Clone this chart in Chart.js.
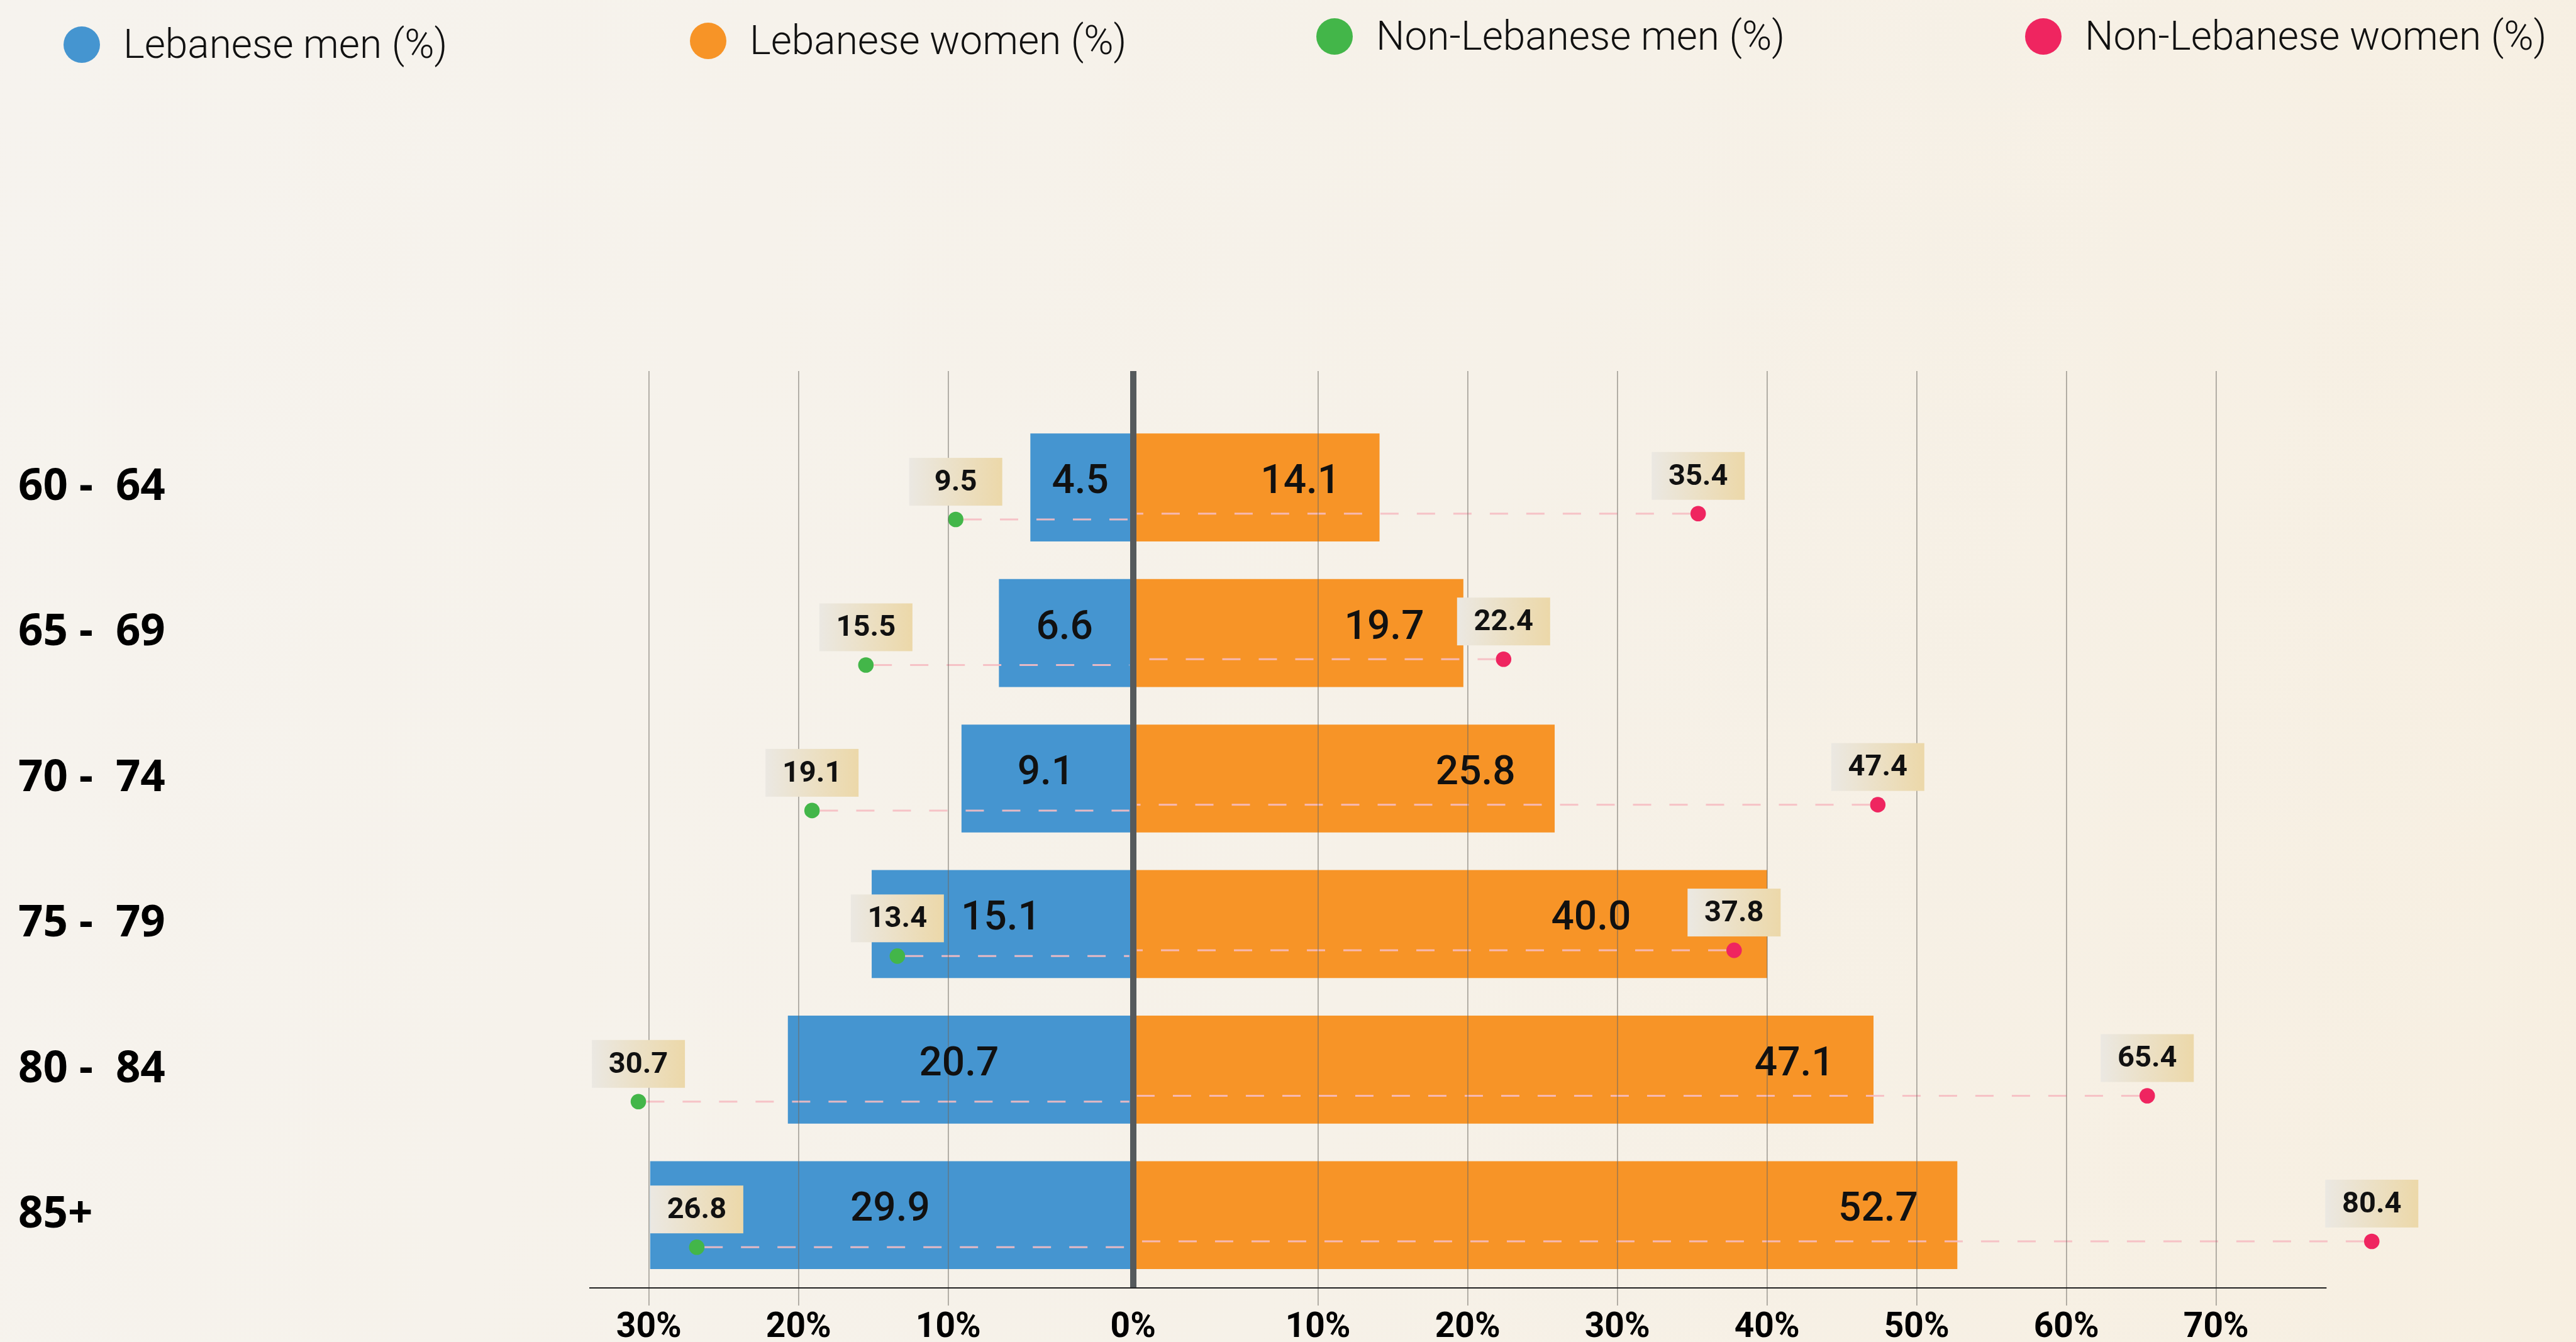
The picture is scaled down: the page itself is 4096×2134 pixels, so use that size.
<!DOCTYPE html>
<html>
<head>
<meta charset="utf-8">
<script src="https://cdn.jsdelivr.net/npm/chart.js@4.4.1/dist/chart.umd.min.js"></script>
<style>
  html, body { margin: 0; padding: 0; width: 4096px; height: 2134px; overflow: hidden; }
  body { position: relative; background: linear-gradient(105deg, #f6f3ee 0%, #f6f1e8 55%, #f7efe1 100%); }
  #c { position: absolute; left: 0; top: 0; width: 4096px; height: 2134px; }
  #legend { position: absolute; left: 0; top: 0; width: 4096px; height: 150px; }
  .li { position: absolute; display: flex; align-items: center; height: 58px; }
  .li .dot { width: 58px; height: 58px; border-radius: 50%; margin-right: 37px; flex: none; }
  .li .tx { font-family: Roboto, sans-serif; font-weight: 300; font-size: 64px; line-height: 1; color: #111; white-space: nowrap; }
  .li:nth-child(1) { left: 101px; top: 42px; }
  .li:nth-child(2) { left: 1097px; top: 36px; }
  .li:nth-child(3) { left: 2093px; top: 29px; }
  .li:nth-child(4) { left: 3220px; top: 29px; }
</style>
</head>
<body>
<canvas id="c" width="4096" height="2134"></canvas>
<div id="legend"></div>
<script>
// ---- data ----
const categories = ["60 -  64", "65 -  69", "70 -  74", "75 -  79", "80 -  84", "85+"];
const seriesNames = ["Lebanese men (%)", "Lebanese women (%)", "Non-Lebanese men (%)", "Non-Lebanese women (%)"];
const lebaneseMen = [4.5, 6.6, 9.1, 15.1, 20.7, 29.9];
const lebaneseWomen = [14.1, 19.7, 25.8, 40.0, 47.1, 52.7];
const nonLebaneseMen = [9.5, 15.5, 19.1, 13.4, 30.7, 26.8];
const nonLebaneseWomen = [35.4, 22.4, 47.4, 37.8, 65.4, 80.4];
const tickPercents = [-30, -20, -10, 0, 10, 20, 30, 40, 50, 60, 70];

// ---- layout helpers (diverging axis with a small gap around the centre line) ----
const GAP = 2.35;
const toLeft = v => -(v + GAP);
const toRight = v => v + GAP;
const tickToAxis = p => p === 0 ? 0 : (p < 0 ? toLeft(-p) : toRight(p));
const MEN_DOT_SHIFT = 0.22, WOMEN_DOT_SHIFT = 0.18;
const X_MIN = -36.33, X_MAX = 84, AXIS_LINE_END = 79.73;

const colors = { blue: '#4595d0', orange: '#f79427', green: '#43b649', pink: '#ef2560' };
const gridGray = 'rgba(110,106,98,0.55)';
const BOX_W = 148, BOX_H = 76, BOX_GAP = 22;

const overlay = {
  id: 'overlay',
  afterDatasetsDraw(chart) {
    const ctx = chart.ctx;
    const cx = chart.scales.x.getPixelForValue(0);
    ctx.save();
    ctx.strokeStyle = 'rgba(246,188,194,0.9)';
    ctx.lineWidth = 3;
    ctx.setLineDash([29, 29]);
    [2, 3].forEach(di => {
      chart.getDatasetMeta(di).data.forEach(pt => {
        const r = pt.options.radius;
        const left = pt.x < cx;
        ctx.beginPath();
        ctx.moveTo(left ? pt.x + r : pt.x - r, pt.y);
        ctx.lineTo(left ? cx - 6 : cx + 6, pt.y);
        ctx.stroke();
      });
    });
    ctx.restore();
  },
  afterDraw(chart) {
    const ctx = chart.ctx;
    const xs = chart.scales.x, area = chart.chartArea;
    ctx.save();
    // bottom axis line (stops short of the last dot, as in the original)
    ctx.strokeStyle = '#222';
    ctx.lineWidth = 1.8;
    ctx.beginPath();
    ctx.moveTo(area.left, area.bottom);
    ctx.lineTo(xs.getPixelForValue(AXIS_LINE_END), area.bottom);
    ctx.stroke();

    // boxes of the dot labels (computed first so bar labels can avoid them)
    const boxes = [];
    [[2, nonLebaneseMen], [3, nonLebaneseWomen]].forEach(([di, vals]) => {
      chart.getDatasetMeta(di).data.forEach((pt, i) => {
        boxes.push({ x: pt.x - BOX_W / 2, y: pt.y - BOX_GAP - BOX_H, cx: pt.x, row: i, text: vals[i].toFixed(1) });
      });
    });

    ctx.fillStyle = '#111';
    ctx.font = '500 64px Roboto';
    ctx.textBaseline = 'middle';
    chart.getDatasetMeta(0).data.forEach((el, i) => {
      ctx.textAlign = 'center';
      ctx.fillText(lebaneseMen[i].toFixed(1), (el.x + el.base) / 2, el.y - 7);
    });
    chart.getDatasetMeta(1).data.forEach((el, i) => {
      const txt = lebaneseWomen[i].toFixed(1);
      const w = ctx.measureText(txt).width;
      let right = el.x - 62;
      boxes.forEach(b => {
        if (b.row === i && right > b.x && right - w < b.x + BOX_W) right = b.x - 90;
      });
      ctx.textAlign = 'right';
      ctx.fillText(txt, right, el.y - 7);
    });

    boxes.forEach(b => {
      const g = ctx.createLinearGradient(b.x, 0, b.x + BOX_W, 0);
      g.addColorStop(0, '#ebe8e2');
      g.addColorStop(1, '#ecd8a9');
      ctx.fillStyle = g;
      ctx.fillRect(b.x, b.y, BOX_W, BOX_H);
      ctx.fillStyle = '#111';
      ctx.font = 'bold 47px Roboto';
      ctx.textAlign = 'center';
      ctx.textBaseline = 'middle';
      ctx.fillText(b.text, b.cx, b.y + BOX_H / 2 + 2);
    });
    ctx.restore();
  }
};

const chart = new Chart(document.getElementById('c'), {
  type: 'bar',
  data: {
    datasets: [
      { type: 'bar', label: seriesNames[0], grouped: false,
        data: lebaneseMen.map((v, i) => ({ x: toLeft(v), y: i })),
        backgroundColor: colors.blue, borderWidth: 0, barThickness: 171, order: 2 },
      { type: 'bar', label: seriesNames[1], grouped: false,
        data: lebaneseWomen.map((v, i) => ({ x: toRight(v), y: i })),
        backgroundColor: colors.orange, borderWidth: 0, barThickness: 171, order: 2 },
      { type: 'scatter', label: seriesNames[2],
        data: nonLebaneseMen.map((v, i) => ({ x: toLeft(v), y: i + MEN_DOT_SHIFT })),
        backgroundColor: colors.green, pointRadius: 12.3, pointHoverRadius: 12.3,
        pointBorderWidth: 0, borderWidth: 0, clip: false, order: 1 },
      { type: 'scatter', label: seriesNames[3],
        data: nonLebaneseWomen.map((v, i) => ({ x: toRight(v), y: i + WOMEN_DOT_SHIFT })),
        backgroundColor: colors.pink, pointRadius: 12.3, pointHoverRadius: 12.3,
        pointBorderWidth: 0, borderWidth: 0, clip: false, order: 1 }
    ]
  },
  options: {
    indexAxis: 'y',
    responsive: false,
    animation: false,
    events: [],
    layout: { padding: { left: 29, right: 295, top: 590, bottom: 0 } },
    plugins: { legend: { display: false }, tooltip: { enabled: false } },
    scales: {
      x: {
        type: 'linear', position: 'bottom', min: X_MIN, max: X_MAX,
        offset: false, beginAtZero: false, grace: 0,
        afterBuildTicks: s => { s.ticks = tickPercents.map(p => ({ value: tickToAxis(p) })); },
        afterFit: s => { s.height = 86; },
        ticks: {
          autoSkip: false, maxRotation: 0, padding: 3, color: '#000',
          font: { family: 'Roboto', weight: 'bold', size: 55 },
          callback: (v, i) => Math.abs(tickPercents[i]) + '%'
        },
        grid: {
          z: 1, offset: false, drawOnChartArea: true, tickLength: 28,
          color: c => (c.tick && c.tick.value === 0) ? '#565a5c' : gridGray,
          lineWidth: c => (c.tick && c.tick.value === 0) ? 10 : 1.8,
          tickColor: c => (c.tick && c.tick.value === 0) ? 'rgba(0,0,0,0)' : gridGray
        },
        border: { display: false }
      },
      y: {
        type: 'linear', position: 'left', reverse: true, min: -0.8, max: 5.5,
        offset: false, beginAtZero: false, grace: 0,
        afterBuildTicks: s => { s.ticks = categories.map((c, i) => ({ value: i })); },
        afterFit: s => { s.width = 908; },
        ticks: {
          autoSkip: false, crossAlign: 'far', padding: 0, color: '#000',
          font: { family: 'Open Sans', weight: 'bold', size: 69 },
          callback: v => categories[v]
        },
        grid: { display: false, offset: false },
        border: { display: false }
      }
    }
  },
  plugins: [overlay]
});

const legend = document.getElementById('legend');
chart.data.datasets.forEach(ds => {
  const item = document.createElement('div');
  item.className = 'li';
  const dot = document.createElement('span');
  dot.className = 'dot';
  dot.style.background = ds.backgroundColor;
  const tx = document.createElement('span');
  tx.className = 'tx';
  tx.textContent = ds.label;
  item.appendChild(dot);
  item.appendChild(tx);
  legend.appendChild(item);
});
</script>
</body>
</html>
